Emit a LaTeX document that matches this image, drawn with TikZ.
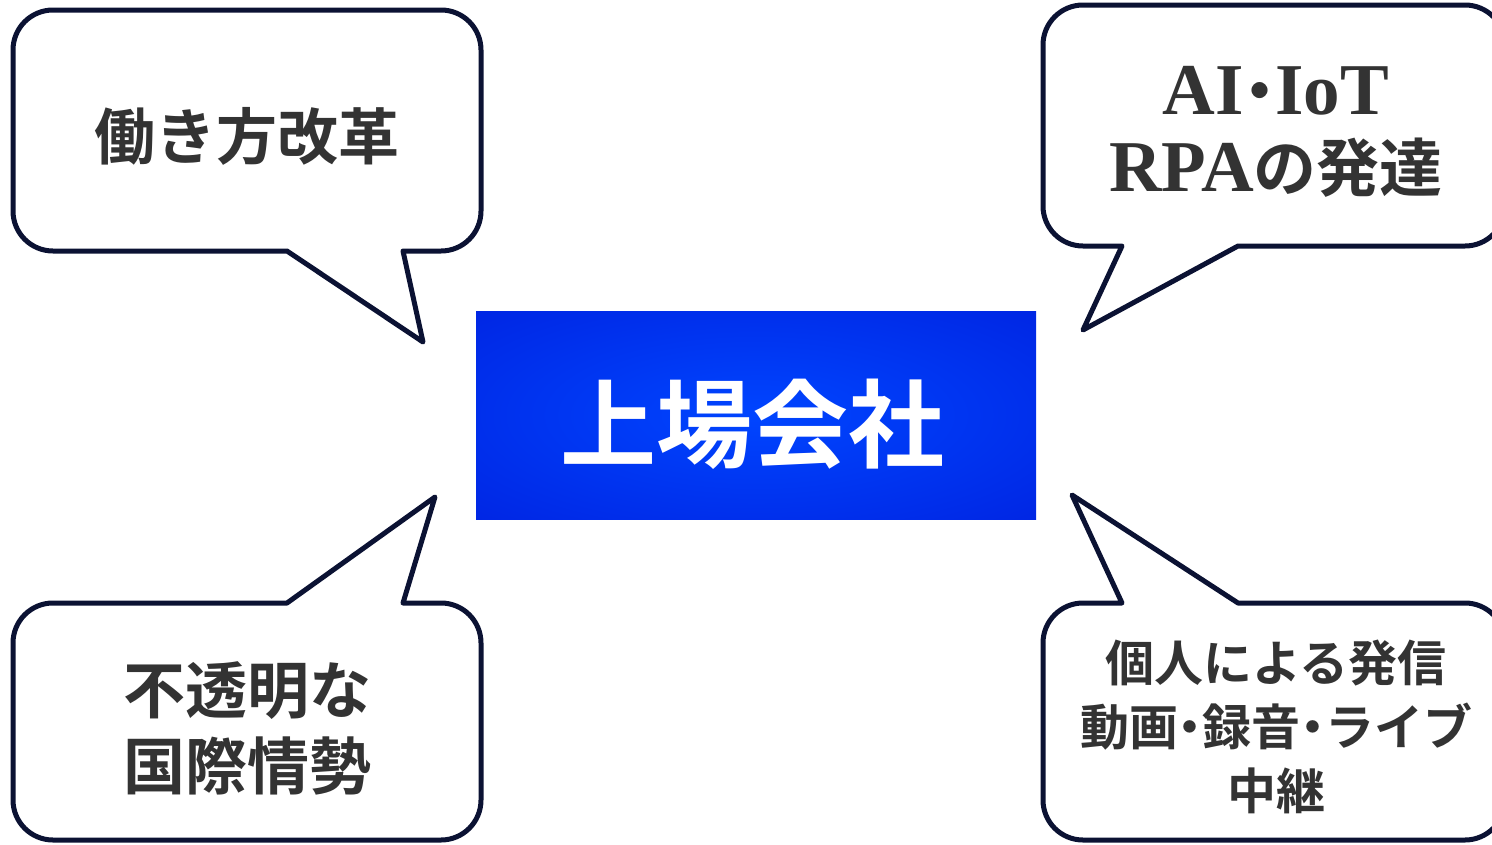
\documentclass[tikz,border=0pt]{standalone}
\usepackage{fontspec}
\setmainfont{Liberation Serif}
\newfontfamily\cjk{Noto Sans CJK JP}[BoldFont={Noto Sans CJK JP Bold}]
\definecolor{lineC}{HTML}{0B1233}
\definecolor{txtC}{HTML}{333333}
\pgfdeclareradialshading{boxshade}{\pgfpoint{0bp}{0bp}}{rgb(0bp)=(0,0.27,1); rgb(50bp)=(0,0.10,0.85); rgb(72bp)=(0,0.08,0.82)}
\newcommand\nd{\kern-0.25em・\kern-0.25em}
\newcommand\jsz[2]{\fontsize{#1}{#2}\selectfont\cjk\bfseries}
\begin{document}
\begin{tikzpicture}[x=1pt,y=1pt,
  bubble/.style={draw=lineC, line width=5pt, fill=white, line join=round},
  lbl/.style={text=txtC, align=center, inner sep=0pt}]
\useasboundingbox (0,0) rectangle (1492,-844);
\clip (0,0) rectangle (1492,-844);
% top-left callout
\path[bubble] (53,-10) -- (441,-10) arc[start angle=90,end angle=0,radius=40]
  -- (481,-211) arc[start angle=0,end angle=-90,radius=40]
  -- (403,-251) -- (423,-342) -- (287,-251)
  -- (53,-251) arc[start angle=-90,end angle=-180,radius=40]
  -- (13,-50) arc[start angle=180,end angle=90,radius=40] -- cycle;
% top-right callout
\path[bubble] (1083,-5) -- (1465,-5) arc[start angle=90,end angle=0,radius=40]
  -- (1505,-206) arc[start angle=0,end angle=-90,radius=40]
  -- (1238,-246) -- (1083,-330) -- (1122,-246)
  -- (1083,-246) arc[start angle=-90,end angle=-180,radius=40]
  -- (1043,-45) arc[start angle=180,end angle=90,radius=40] -- cycle;
% bottom-left callout
\path[bubble] (53,-603) -- (287,-603) -- (435,-497) -- (403,-603)
  -- (441,-603) arc[start angle=90,end angle=0,radius=40]
  -- (481,-800) arc[start angle=0,end angle=-90,radius=40]
  -- (53,-840) arc[start angle=-90,end angle=-180,radius=40]
  -- (13,-643) arc[start angle=180,end angle=90,radius=40] -- cycle;
% bottom-right callout
\path[bubble] (1083,-603) -- (1122,-603) -- (1072,-495) -- (1238,-603)
  -- (1465,-603) arc[start angle=90,end angle=0,radius=40]
  -- (1505,-800) arc[start angle=0,end angle=-90,radius=40]
  -- (1083,-840) arc[start angle=-90,end angle=-180,radius=40]
  -- (1043,-643) arc[start angle=180,end angle=90,radius=40] -- cycle;
% central box
\node[rectangle, minimum width=560pt, minimum height=208pt, inner sep=0pt,
  shading=boxshade] (center) at (756,-415) {};
\node[text=white, inner sep=0pt, font={\jsz{96}{110}}] (ctext) at (752,-424) {上場会社};
% texts
\node[lbl, font={\jsz{61}{70}}] (tl) at (247,-136) {働き方改革};
\node[lbl, font={\bfseries\fontsize{73}{77}\selectfont}] (tr) at (1276,-132)
  {AI{\jsz{63}{77}\nd}IoT\\RPA{\jsz{63}{77}の発達}};
\node[lbl, font={\jsz{62}{76}}] (bl) at (247,-728) {不透明な\\国際情勢};
\node[lbl, font={\jsz{49}{64}}] (br) at (1276,-727) {個人による発信\\動画\nd 録音\nd ライブ\\中継};
\end{tikzpicture}
\end{document}
